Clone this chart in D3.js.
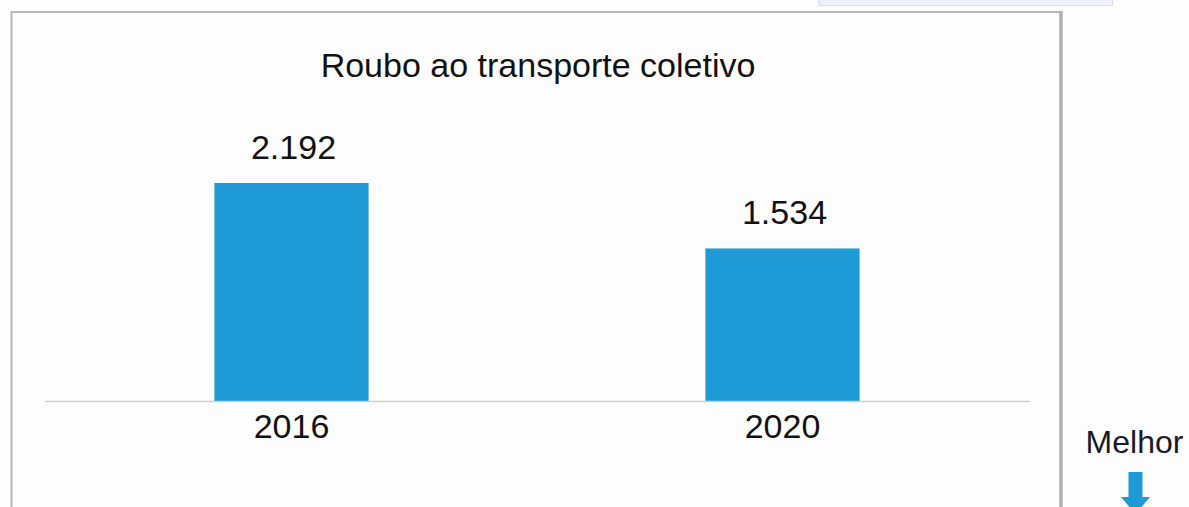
<!DOCTYPE html>
<html>
<head>
<meta charset="utf-8">
<script src="https://cdn.jsdelivr.net/npm/d3@7"></script>
<style>
  html, body { margin: 0; padding: 0; background: #fdfdfd; }
  svg { display: block; }
  text { font-family: "Liberation Sans", Arial, sans-serif; }
</style>
</head>
<body>
<svg id="chart" width="1189" height="507"></svg>
<script>
const title = "Roubo ao transporte coletivo";
const categories = ["2016", "2020"];
const values = [2192, 1534];
const noteLabel = "Melhor";

const W = 1189, H = 507;
const svg = d3.select("#chart");
const ptBR = d3.formatLocale({ decimal: ",", thousands: ".", grouping: [3], currency: ["R$", ""] });
const fmt = ptBR.format(",d");

// decorative lavender strip at top
svg.append("rect").attr("x", 818.5).attr("y", -2).attr("width", 294).attr("height", 7.5)
  .attr("fill", "#eff0fc").attr("stroke", "#dcdcf6").attr("stroke-width", 1);

// frame
svg.append("rect").attr("x", 11.5).attr("y", 12).attr("width", 1049.5).attr("height", 520)
  .attr("fill", "#fdfdfd").attr("stroke", "#b8b8b8").attr("stroke-width", 2);
svg.append("line").attr("x1", 1061).attr("x2", 1061).attr("y1", 11).attr("y2", H)
  .attr("stroke", "#b0b0b0").attr("stroke-width", 3.5);

const x = d3.scaleBand().domain(categories).range([46, 1028])
  .paddingInner(0.686).paddingOuter(0.343);
const y = d3.scaleLinear().domain([0, d3.max(values)]).range([401, 183]);

svg.append("text").attr("x", 538).attr("y", 77).attr("text-anchor", "middle")
  .attr("font-size", 34).attr("fill", "#111").text(title);

const data = categories.map((c, i) => ({ c, v: values[i] }));

svg.selectAll("rect.bar").data(data).join("rect").attr("class", "bar")
  .attr("x", d => x(d.c)).attr("width", x.bandwidth())
  .attr("y", d => y(d.v)).attr("height", d => y(0) - y(d.v))
  .attr("fill", "#1e9bd7");

svg.selectAll("text.val").data(data).join("text").attr("class", "val")
  .attr("x", d => x(d.c) + x.bandwidth() / 2 + 2).attr("y", d => y(d.v) - 24)
  .attr("text-anchor", "middle").attr("font-size", 34).attr("fill", "#111")
  .text(d => fmt(d.v));

// baseline axis
const axis = svg.append("g").attr("transform", `translate(0,${y(0)})`)
  .call(d3.axisBottom(x).tickSize(0).tickPadding(0));
axis.select(".domain").attr("d", "M45,0.5H1030").attr("stroke", "#d0d0d0").attr("stroke-width", 1.5);
axis.selectAll(".tick text").attr("dy", null).attr("y", 37)
  .attr("font-size", 34).attr("fill", "#111").attr("font-family", "Liberation Sans, Arial, sans-serif");

// "Melhor" note with arrow
svg.append("text").attr("x", 1134.5).attr("y", 453).attr("text-anchor", "middle")
  .attr("font-size", 32).attr("fill", "#1a1a28").text(noteLabel);
svg.append("path")
  .attr("d", "M1128.5,472 H1142.5 V497 H1150 L1135.5,514 L1121,497 H1128.5 Z")
  .attr("fill", "#1e9bd7");
</script>
</body>
</html>
